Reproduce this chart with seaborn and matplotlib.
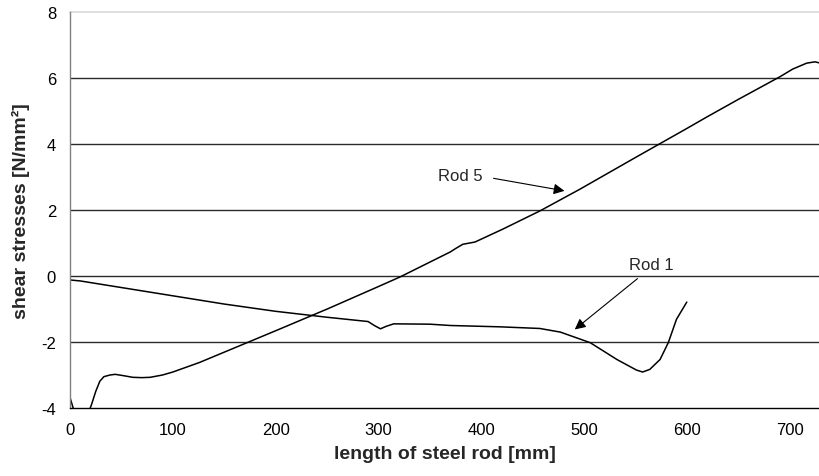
import matplotlib
matplotlib.use("Agg")
import matplotlib.pyplot as plt
import seaborn as sns
import pandas as pd

# Shear stress along the steel rods
rod5_x = [0, 2.6, 6, 16, 21, 25, 29, 33, 39, 44, 52, 61, 70, 78, 90, 100, 126,
          200, 251, 300, 321, 350, 370, 375, 382, 394, 421, 457, 496, 550, 600,
          619, 650, 690.7, 703, 716.6, 724.7, 728.6]
rod5_y = [-3.68, -3.95, -4.3, -4.3, -3.89, -3.5, -3.19, -3.05, -3.0, -2.98, -3.02,
          -3.07, -3.08, -3.07, -3.0, -2.91, -2.62, -1.66, -0.99, -0.32, -0.03, 0.42,
          0.73, 0.83, 0.96, 1.03, 1.42, 1.97, 2.63, 3.59, 4.47, 4.81, 5.35, 6.04,
          6.27, 6.45, 6.49, 6.46]

rod1_x = [0, 10, 50, 100, 150, 200, 250, 290, 296, 302, 308, 315, 350, 370, 418,
          457, 477, 506, 532, 551, 557, 564, 574, 582, 590, 600]
rod1_y = [-0.12, -0.15, -0.35, -0.6, -0.85, -1.07, -1.25, -1.38, -1.5, -1.6, -1.52,
          -1.45, -1.46, -1.50, -1.54, -1.59, -1.70, -2.02, -2.53, -2.85, -2.91, -2.83,
          -2.53, -2.02, -1.31, -0.79]

x_ticks = [0, 100, 200, 300, 400, 500, 600, 700]
y_ticks = [-4, -2, 0, 2, 4, 6, 8]

sns.set_style("white")
plt.rcParams["font.family"] = ["Liberation Sans", "DejaVu Sans"]
plt.rcParams["axes.unicode_minus"] = False

fig = plt.figure(figsize=(8.19, 4.77), dpi=100)
ax = fig.add_axes([70 / 819, 68 / 477, 749 / 819, 396 / 477])

df5 = pd.DataFrame({"x": rod5_x, "y": rod5_y})
df1 = pd.DataFrame({"x": rod1_x, "y": rod1_y})
sns.lineplot(data=df5, x="x", y="y", color="black", lw=1.1, ax=ax, sort=False)
sns.lineplot(data=df1, x="x", y="y", color="black", lw=1.1, ax=ax, sort=False)

ax.set_xlim(0, 728.6)
ax.set_ylim(-4, 8)
ax.set_xticks(x_ticks)
ax.set_yticks(y_ticks)

# horizontal gridlines
for v in y_ticks:
    if v == 8:
        ax.axhline(v, color="#d9d9d9", lw=1.2, zorder=0, clip_on=False)
    elif v > -4:
        ax.axhline(v, color="#2a2a2a", lw=1.0, zorder=0)

for side in ("top", "right"):
    ax.spines[side].set_visible(False)
ax.spines["left"].set_color("#808080")
ax.spines["left"].set_linewidth(1.0)
ax.spines["bottom"].set_color("black")
ax.spines["bottom"].set_linewidth(1.0)

ax.tick_params(axis="both", direction="out", length=4, width=1, labelsize=12,
               colors="black", pad=6)
ax.tick_params(axis="y", color="#555555")
ax.tick_params(axis="x", color="#555555")

ax.set_xlabel("length of steel rod [mm]", fontsize=14, fontweight="bold", labelpad=6)
ax.set_ylabel("shear stresses [N/mm²]", fontsize=14, fontweight="bold", labelpad=8)

arrow = dict(arrowstyle="-|>", color="black", lw=0.8, mutation_scale=16,
             shrinkA=0, shrinkB=0)
ax.annotate("", xy=(481, 2.58), xytext=(412, 2.96), arrowprops=arrow)
ax.text(380, 3.06, "Rod 5", fontsize=12, ha="center", va="center")
ax.annotate("", xy=(491, -1.62), xytext=(552, -0.08), arrowprops=arrow)
ax.text(565, 0.36, "Rod 1", fontsize=12, ha="center", va="center")

fig.savefig("out.png", dpi=100)
